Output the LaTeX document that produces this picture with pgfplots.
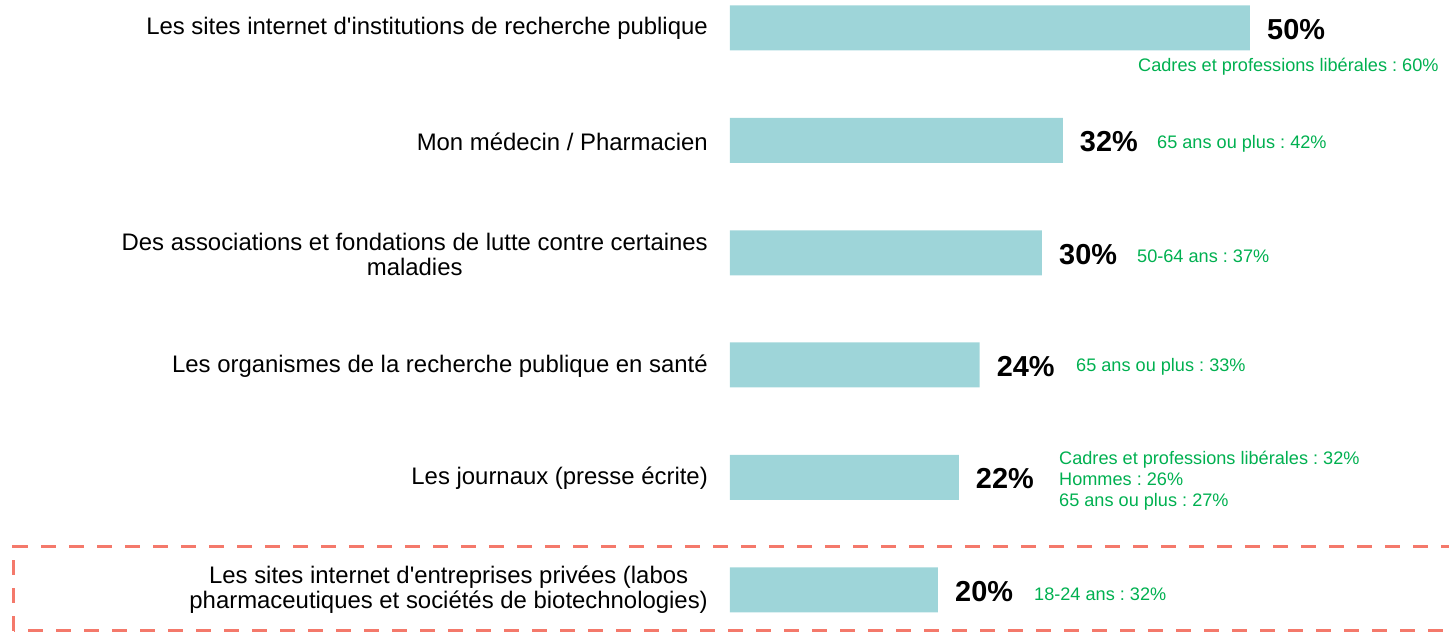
\documentclass[border=0pt]{standalone}
\usepackage{pgfplots}
\pgfplotsset{compat=1.18}
\usepackage{fontspec}
\setmainfont{Liberation Sans}
\frenchspacing
\definecolor{barc}{RGB}{158,213,217}
\definecolor{grn}{RGB}{0,176,80}
\definecolor{sal}{RGB}{244,121,107}
\newcommand{\lab}{\fontsize{24}{25}\selectfont}
\newcommand{\grt}{\fontsize{18.2}{21}\selectfont}
\begin{document}
\begin{tikzpicture}[x=1bp,y=1bp]
\useasboundingbox (0,0) rectangle (1449,632);
\begin{axis}[at={(0,0)}, anchor=south west, scale only axis,
  width=1449bp, height=632bp,
  xmin=-70.1923, xmax=69.1346, ymin=0, ymax=632,
  hide axis, clip=false,
  xbar, bar width=45,
  point meta=x,
  /pgf/number format/assume math mode=true,
  nodes near coords={\pgfmathprintnumber{\pgfplotspointmeta}\%},
  nodes near coords style={font=\fontsize{29}{30}\selectfont\bfseries, text=black, anchor=west, inner sep=0pt, xshift=17bp, yshift=-1.5bp}]
\addplot[fill=barc, draw=none] coordinates {(50,604) (32,491.5) (30,379) (24,267) (22,154.5) (20,42)};
\end{axis}
% category labels
\node[anchor=east, inner sep=0pt, font=\lab] at (708,604) {Les sites internet d\textquotesingle institutions de recherche publique};
\node[anchor=east, inner sep=0pt, font=\lab] at (708,490) {Mon médecin / Pharmacien};
\node[anchor=east, inner sep=0pt, font=\lab, align=center] at (708,377.5) {Des associations et fondations de lutte contre certaines\\maladies};
\node[anchor=east, inner sep=0pt, font=\lab] at (708,266) {Les organismes de la recherche publique en santé};
\node[anchor=east, inner sep=0pt, font=\lab] at (708,154) {Les journaux (presse écrite)};
\node[anchor=east, inner sep=0pt, font=\lab, align=center] at (708,42.5) {Les sites internet d\textquotesingle entreprises privées (labos\\pharmaceutiques et sociétés de biotechnologies)};
% green annotations
\node[anchor=west, inner sep=0pt, font=\grt, text=grn] at (1138,565) {Cadres et professions libérales : 60\%};
\node[anchor=west, inner sep=0pt, font=\grt, text=grn] at (1157,488) {65 ans ou plus : 42\%};
\node[anchor=west, inner sep=0pt, font=\grt, text=grn] at (1137,376) {50-64 ans : 37\%};
\node[anchor=west, inner sep=0pt, font=\grt, text=grn] at (1076,265) {65 ans ou plus : 33\%};
\node[anchor=west, inner sep=0pt, font=\grt, text=grn, align=left] at (1059,151) {Cadres et professions libérales : 32\%\\Hommes : 26\%\\65 ans ou plus : 27\%};
\node[anchor=west, inner sep=0pt, font=\grt, text=grn] at (1034,37.5) {18-24 ans : 32\%};
% dashed highlight box
\draw[sal, line width=3.3bp, dash pattern=on 15bp off 13bp] (13.7,1) rectangle (1470,85.3);
\end{tikzpicture}
\end{document}
